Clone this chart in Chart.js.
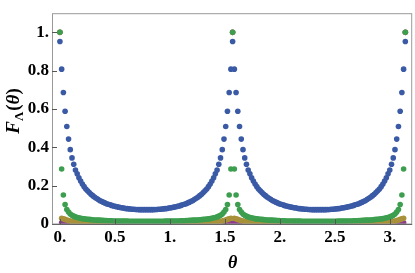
<!DOCTYPE html>
<html>
<head>
<meta charset="utf-8">
<script src="https://cdn.jsdelivr.net/npm/chart.js@4.4.1/dist/chart.umd.min.js"></script>
<style>
html,body{margin:0;padding:0;background:#fff;}
#c{display:block;}
</style>
</head>
<body>
<canvas id="c" width="415" height="273"></canvas>
<script>
// sample angles theta (rad)
const theta = [
0,0.0157,0.0314,0.0471,0.0628,0.0785,0.0942,0.1100,0.1257,0.1414,
0.1571,0.1728,0.1885,0.2042,0.2199,0.2356,0.2513,0.2670,0.2827,0.2985,
0.3142,0.3299,0.3456,0.3613,0.3770,0.3927,0.4084,0.4241,0.4398,0.4555,
0.4712,0.4869,0.5027,0.5184,0.5341,0.5498,0.5655,0.5812,0.5969,0.6126,
0.6283,0.6440,0.6597,0.6754,0.6912,0.7069,0.7226,0.7383,0.7540,0.7697,
0.7854,0.8011,0.8168,0.8325,0.8482,0.8639,0.8796,0.8954,0.9111,0.9268,
0.9425,0.9582,0.9739,0.9896,1.0053,1.0210,1.0367,1.0524,1.0681,1.0838,
1.0996,1.1153,1.1310,1.1467,1.1624,1.1781,1.1938,1.2095,1.2252,1.2409,
1.2566,1.2723,1.2881,1.3038,1.3195,1.3352,1.3509,1.3666,1.3823,1.3980,
1.4137,1.4294,1.4451,1.4608,1.4765,1.4923,1.5080,1.5237,1.5394,1.5551,
1.5708,1.5865,1.6022,1.6179,1.6336,1.6493,1.6650,1.6808,1.6965,1.7122,
1.7279,1.7436,1.7593,1.7750,1.7907,1.8064,1.8221,1.8378,1.8535,1.8693,
1.8850,1.9007,1.9164,1.9321,1.9478,1.9635,1.9792,1.9949,2.0106,2.0263,
2.0420,2.0577,2.0735,2.0892,2.1049,2.1206,2.1363,2.1520,2.1677,2.1834,
2.1991,2.2148,2.2305,2.2462,2.2619,2.2777,2.2934,2.3091,2.3248,2.3405,
2.3562,2.3719,2.3876,2.4033,2.4190,2.4347,2.4504,2.4662,2.4819,2.4976,
2.5133,2.5290,2.5447,2.5604,2.5761,2.5918,2.6075,2.6232,2.6389,2.6546,
2.6704,2.6861,2.7018,2.7175,2.7332,2.7489,2.7646,2.7803,2.7960,2.8117,
2.8274,2.8431,2.8588,2.8746,2.8903,2.9060,2.9217,2.9374,2.9531,2.9688,
2.9845,3.0002,3.0159,3.0316,3.0473,3.0631,3.0788,3.0945,3.1102,3.1259,
3.1416
];

// blue series
const blueF = [
0.952,0.808,0.686,0.588,0.509,0.443,0.388,0.345,0.312,0.282,
0.262,0.241,0.224,0.209,0.195,0.183,0.173,0.164,0.155,0.148,
0.141,0.134,0.129,0.123,0.119,0.114,0.110,0.106,0.103,0.100,
0.097,0.094,0.092,0.090,0.088,0.086,0.084,0.083,0.081,0.080,
0.079,0.078,0.077,0.077,0.076,0.076,0.075,0.075,0.075,0.075,
0.075,
0.075,0.075,0.075,0.075,0.076,0.076,0.077,0.077,0.078,0.079,
0.080,0.081,0.083,0.084,0.086,0.088,0.090,0.092,0.094,0.097,
0.100,0.103,0.106,0.110,0.114,0.119,0.123,0.129,0.134,0.141,
0.148,0.155,0.164,0.173,0.183,0.195,0.209,0.224,0.241,0.262,
0.282,0.312,0.345,0.388,0.443,0.509,0.588,0.686,0.808,0.952,
0.808,0.686,0.588,0.509,0.443,0.388,0.345,0.312,0.282,
0.262,0.241,0.224,0.209,0.195,0.183,0.173,0.164,0.155,0.148,
0.141,0.134,0.129,0.123,0.119,0.114,0.110,0.106,0.103,0.100,
0.097,0.094,0.092,0.090,0.088,0.086,0.084,0.083,0.081,0.080,
0.079,0.078,0.077,0.077,0.076,0.076,0.075,0.075,0.075,0.075,
0.075,
0.075,0.075,0.075,0.075,0.076,0.076,0.077,0.077,0.078,0.079,
0.080,0.081,0.083,0.084,0.086,0.088,0.090,0.092,0.094,0.097,
0.100,0.103,0.106,0.110,0.114,0.119,0.123,0.129,0.134,0.141,
0.148,0.155,0.164,0.173,0.183,0.195,0.209,0.224,0.241,0.262,
0.282,0.312,0.345,0.388,0.443,0.509,0.588,0.686,0.808,0.952
];

// green series
const greenF = [
1.0,0.287,0.151,0.102,0.076,0.062,0.052,0.046,0.041,0.037,
0.034,0.032,0.030,0.028,0.027,0.026,0.025,0.024,0.023,0.022,
0.021,0.021,0.020,0.020,0.019,0.019,0.018,0.018,0.017,0.017,
0.017,0.016,0.016,0.016,0.016,0.015,0.015,0.015,0.015,0.015,
0.014,0.014,0.014,0.014,0.014,0.014,0.014,0.014,0.014,0.014,
0.014,
0.014,0.014,0.014,0.014,0.014,0.014,0.014,0.014,0.014,0.014,
0.015,0.015,0.015,0.015,0.015,0.016,0.016,0.016,0.016,0.017,
0.017,0.017,0.018,0.018,0.019,0.019,0.020,0.020,0.021,0.021,
0.022,0.023,0.024,0.025,0.026,0.027,0.028,0.030,0.032,0.034,
0.037,0.041,0.046,0.052,0.062,0.076,0.102,0.151,0.287,1.0,
0.287,0.151,0.102,0.076,0.062,0.052,0.046,0.041,0.037,
0.034,0.032,0.030,0.028,0.027,0.026,0.025,0.024,0.023,0.022,
0.021,0.021,0.020,0.020,0.019,0.019,0.018,0.018,0.017,0.017,
0.017,0.016,0.016,0.016,0.016,0.015,0.015,0.015,0.015,0.015,
0.014,0.014,0.014,0.014,0.014,0.014,0.014,0.014,0.014,0.014,
0.014,
0.014,0.014,0.014,0.014,0.014,0.014,0.014,0.014,0.014,0.014,
0.015,0.015,0.015,0.015,0.015,0.016,0.016,0.016,0.016,0.017,
0.017,0.017,0.018,0.018,0.019,0.019,0.020,0.020,0.021,0.021,
0.022,0.023,0.024,0.025,0.026,0.027,0.028,0.030,0.032,0.034,
0.037,0.041,0.046,0.052,0.062,0.076,0.102,0.151,0.287,1.0
];

// gold series
const goldF = [
1.0,0.030,0.027,0.024,0.021,0.018,0.016,0.014,0.012,0.010,
0.008,0.006,0.004,0.003,0.002,0.001,0.001,0.001,0.001,0.001,
0.001,0.001,0.001,0.001,0.001,0.001,0.001,0.001,0.001,0.001,
0.001,0.001,0.001,0.001,0.001,0.001,0.001,0.001,0.001,0.001,
0.001,0.001,0.001,0.001,0.001,0.001,0.001,0.001,0.001,0.001,
0.001,
0.001,0.001,0.001,0.001,0.001,0.001,0.001,0.001,0.001,0.001,
0.001,0.001,0.001,0.001,0.001,0.001,0.001,0.001,0.001,0.001,
0.001,0.001,0.001,0.001,0.001,0.001,0.001,0.001,0.001,0.001,
0.001,0.001,0.001,0.001,0.001,0.002,0.003,0.004,0.006,0.008,
0.010,0.012,0.014,0.016,0.018,0.021,0.024,0.027,0.030,1.0,
0.030,0.027,0.024,0.021,0.018,0.016,0.014,0.012,0.010,
0.008,0.006,0.004,0.003,0.002,0.001,0.001,0.001,0.001,0.001,
0.001,0.001,0.001,0.001,0.001,0.001,0.001,0.001,0.001,0.001,
0.001,0.001,0.001,0.001,0.001,0.001,0.001,0.001,0.001,0.001,
0.001,0.001,0.001,0.001,0.001,0.001,0.001,0.001,0.001,0.001,
0.001,
0.001,0.001,0.001,0.001,0.001,0.001,0.001,0.001,0.001,0.001,
0.001,0.001,0.001,0.001,0.001,0.001,0.001,0.001,0.001,0.001,
0.001,0.001,0.001,0.001,0.001,0.001,0.001,0.001,0.001,0.001,
0.001,0.001,0.001,0.001,0.001,0.002,0.003,0.004,0.006,0.008,
0.010,0.012,0.014,0.016,0.018,0.021,0.024,0.027,0.030,1.0
];

// purple series
const purpleF = [
1.0,0.006,0.003,0.002,0.001,0.001,0.001,0.001,0.001,0.001,
0.001,0.001,0.001,0.001,0.001,0.001,0.001,0.001,0.001,0.001,
0.001,0.001,0.001,0.001,0.001,0.001,0.001,0.001,0.001,0.001,
0.001,0.001,0.001,0.001,0.001,0.001,0.001,0.001,0.001,0.001,
0.001,0.001,0.001,0.001,0.001,0.001,0.001,0.001,0.001,0.001,
0.001,
0.001,0.001,0.001,0.001,0.001,0.001,0.001,0.001,0.001,0.001,
0.001,0.001,0.001,0.001,0.001,0.001,0.001,0.001,0.001,0.001,
0.001,0.001,0.001,0.001,0.001,0.001,0.001,0.001,0.001,0.001,
0.001,0.001,0.001,0.001,0.001,0.001,0.001,0.001,0.001,0.001,
0.001,0.001,0.001,0.001,0.001,0.001,0.002,0.003,0.006,1.0,
0.006,0.003,0.002,0.001,0.001,0.001,0.001,0.001,0.001,
0.001,0.001,0.001,0.001,0.001,0.001,0.001,0.001,0.001,0.001,
0.001,0.001,0.001,0.001,0.001,0.001,0.001,0.001,0.001,0.001,
0.001,0.001,0.001,0.001,0.001,0.001,0.001,0.001,0.001,0.001,
0.001,0.001,0.001,0.001,0.001,0.001,0.001,0.001,0.001,0.001,
0.001,
0.001,0.001,0.001,0.001,0.001,0.001,0.001,0.001,0.001,0.001,
0.001,0.001,0.001,0.001,0.001,0.001,0.001,0.001,0.001,0.001,
0.001,0.001,0.001,0.001,0.001,0.001,0.001,0.001,0.001,0.001,
0.001,0.001,0.001,0.001,0.001,0.001,0.001,0.001,0.001,0.001,
0.001,0.001,0.001,0.001,0.001,0.001,0.002,0.003,0.006,1.0
];

const xTickVals = [0, 0.5, 1, 1.5, 2, 2.5, 3];
const xTickLabels = ["0.", "0.5", "1.", "1.5", "2.", "2.5", "3."];
const yTickVals = [0, 0.2, 0.4, 0.6, 0.8, 1];
const yTickLabels = ["0", "0.2", "0.4", "0.6", "0.8", "1."];

function pts(ys){ return theta.map((t,i)=>({x:t, y:ys[i]})); }

const COLORS = {blue:'#3A5AA6', green:'#3C9E4E', gold:'#A8913A', purple:'#8E3B8E'};

function ds(ys, color){
  return {data: pts(ys), backgroundColor: color, borderColor: color,
          pointRadius: 2.8, pointBorderWidth: 0, pointHoverRadius: 0, clip: 0};
}

const framePlugin = {
  id:'frame',
  afterDraw(chart){
    const {ctx, chartArea:a, scales:{x, y}} = chart;
    ctx.save();
    ctx.strokeStyle = '#9a9a9a';
    ctx.lineWidth = 1;
    ctx.strokeRect(a.left + 0.5, a.top + 0.5, a.right - a.left - 1, a.bottom - a.top - 1 + 0.5);
    ctx.strokeStyle = '#555';
    ctx.beginPath();
    xTickVals.forEach(v => { const px = Math.round(x.getPixelForValue(v)) + 0.5; ctx.moveTo(px, a.bottom); ctx.lineTo(px, a.bottom - 5); });
    yTickVals.forEach(v => { const py = Math.round(y.getPixelForValue(v)) + 0.5; ctx.moveTo(a.left, py); ctx.lineTo(a.left + 5, py); });
    ctx.stroke();
    ctx.strokeStyle = '#666';
    ctx.beginPath();
    ctx.moveTo(a.left, a.bottom + 0.5); ctx.lineTo(a.right, a.bottom + 0.5);
    ctx.stroke();

    // axis titles
    ctx.fillStyle = '#000';
    ctx.textBaseline = 'alphabetic';
    ctx.font = 'italic bold 18px "Liberation Serif"';
    ctx.textAlign = 'center';
    ctx.fillText('θ', x.getPixelForValue(1.5708), 268);

    // y title: F_Λ(θ), rotated
    ctx.translate(19, 111);
    ctx.rotate(-Math.PI / 2);
    const big = 'italic bold 19px "Liberation Serif"';
    const up = 'bold 19px "Liberation Serif"';
    const sub = 'bold 13px "Liberation Serif"';
    const parts = [['F', big, 0], ['Λ', sub, 4], ['(', up, 0], ['θ', big, 0], [')', up, 0]];
    let total = 0;
    parts.forEach(p => { ctx.font = p[1]; total += ctx.measureText(p[0]).width; });
    total += 1;
    let cx = -total / 2;
    ctx.textAlign = 'left';
    parts.forEach((p, i) => { ctx.font = p[1]; ctx.fillText(p[0], cx, p[2]); cx += ctx.measureText(p[0]).width + (i === 1 ? 1 : 0); });
    ctx.restore();
  }
};

const tickFont = {family:'Liberation Serif', size:17, weight:'bold'};

new Chart(document.getElementById('c'), {
  type:'scatter',
  data:{ datasets:[ ds(greenF, COLORS.green), ds(blueF, COLORS.blue), ds(goldF, COLORS.gold), ds(purpleF, COLORS.purple) ] },
  options:{
    responsive:false, animation:false, devicePixelRatio:1,
    layout:{padding:{left:0, right:1, top:1, bottom:0}},
    plugins:{legend:{display:false}, tooltip:{enabled:false}},
    events:[],
    scales:{
      x:{
        type:'linear', min:-0.072, max:3.204,
        afterFit(s){ s.height = 49; },
        afterBuildTicks(s){ s.ticks = xTickVals.map(v => ({value:v})); },
        grid:{display:false, drawTicks:false}, border:{display:false},
        ticks:{padding:3, font:tickFont, color:'#000', autoSkip:false, maxRotation:0,
               callback:(v, i) => xTickLabels[i]}
      },
      y:{
        type:'linear', min:0, max:1.1,
        afterFit(s){ s.width = 52; },
        afterBuildTicks(s){ s.ticks = yTickVals.map(v => ({value:v})); },
        grid:{display:false, drawTicks:false}, border:{display:false},
        ticks:{padding:3, font:tickFont, color:'#000', autoSkip:false,
               callback:(v, i) => yTickLabels[i]}
      }
    }
  },
  plugins:[framePlugin]
});
</script>
</body>
</html>
